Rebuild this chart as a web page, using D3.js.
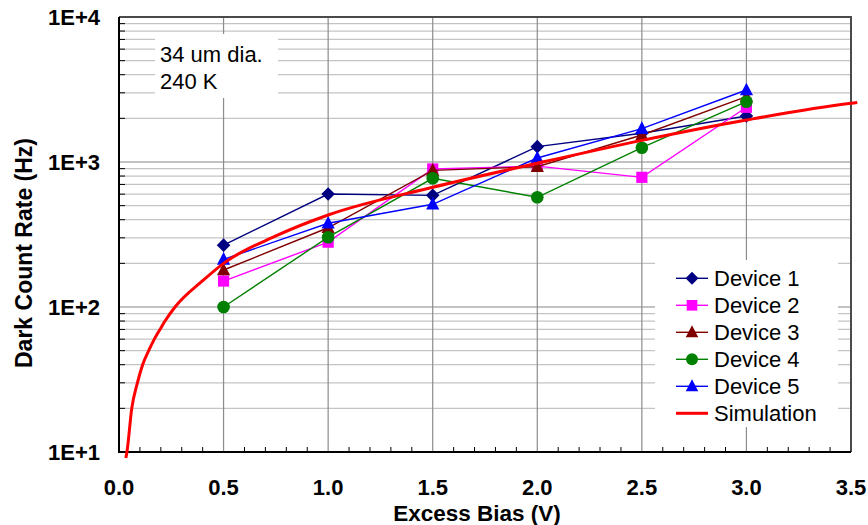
<!doctype html>
<html>
<head>
<meta charset="utf-8">
<script src="https://cdnjs.cloudflare.com/ajax/libs/d3/7.8.5/d3.min.js"></script>
<style>
  body { margin: 0; background: #fff; }
  svg { font-family: Arial, "Liberation Sans", sans-serif; }
</style>
</head>
<body>
<svg id="chart" width="868" height="525"></svg>
<script>
// data
var bias = [0.5, 1.0, 1.5, 2.0, 2.5, 3.0];
var device1 = [267, 601, 589, 1276, 1578, 2075];
var device2 = [151, 280, 895, 936, 784, 2384];
var device3 = [180, 352, 875, 928, 1535, 2820];
var device4 = [100, 303, 772, 571, 1255, 2606];
var device5 = [213, 378, 511, 1065, 1700, 3138];

var simBias = [0.033, 0.038, 0.061, 0.088, 0.113, 0.142, 0.169, 0.196, 0.22, 0.268, 0.403, 0.5, 0.75, 1.0, 1.5, 2.0, 2.5, 3.0, 3.5, 3.53];
var simRate = [9.1, 10, 20, 30, 40, 50, 60, 70, 80, 100, 153, 200, 309, 431, 669, 980, 1410, 1949, 2540, 2570];

var xTicks = [0, 0.5, 1.0, 1.5, 2.0, 2.5, 3.0, 3.5];
var yTicks = [10, 100, 1000, 10000];
var yTickLabels = ["1E+1", "1E+2", "1E+3", "1E+4"];

var series = [
  {name: "Device 1", values: device1, color: "#000080", shape: "diamond"},
  {name: "Device 2", values: device2, color: "#ff00ff", shape: "square"},
  {name: "Device 3", values: device3, color: "#800000", shape: "triangle"},
  {name: "Device 4", values: device4, color: "#008000", shape: "circle"},
  {name: "Device 5", values: device5, color: "#0000ff", shape: "triangle"}
];

var pL = 119, pR = 851, pT = 17, pB = 452;
var x = d3.scaleLinear().domain([0, 3.5]).range([pL, pR]);
var y = d3.scaleLog().domain([10, 10000]).range([pB, pT]);

var svg = d3.select("#chart");

// minor horizontal grid (2..9 per decade)
var minors = [];
[10, 100, 1000].forEach(function(d) {
  for (var k = 2; k <= 9; k++) minors.push(d * k);
});
svg.append("g").selectAll("line").data(minors).enter().append("line")
  .attr("x1", pL).attr("x2", pR)
  .attr("y1", d => y(d)).attr("y2", d => y(d))
  .style("stroke", "#c4c4c4").style("stroke-width", 1.2);

svg.append("g").selectAll("line").data(yTicks).enter().append("line")
  .attr("x1", pL).attr("x2", pR)
  .attr("y1", d => y(d)).attr("y2", d => y(d))
  .style("stroke", "#858585").style("stroke-width", 1.2);

svg.append("g").selectAll("line").data(xTicks.slice(1, -1)).enter().append("line")
  .attr("x1", d => x(d)).attr("x2", d => x(d))
  .attr("y1", pT).attr("y2", pB)
  .style("stroke", "#8c8c8c").style("stroke-width", 1.2);

// minor ticks, pointing inward
var xMinor = d3.range(1, 35).map(d => d / 10).filter(d => Math.abs(d * 2 - Math.round(d * 2)) > 0.01);
svg.append("g").selectAll("line").data(xMinor).enter().append("line")
  .attr("x1", d => x(d)).attr("x2", d => x(d))
  .attr("y1", pB).attr("y2", pB - 5)
  .style("stroke", "#000").style("stroke-width", 1);
svg.append("g").selectAll("line").data(minors).enter().append("line")
  .attr("x1", pL).attr("x2", pL + 6)
  .attr("y1", d => y(d)).attr("y2", d => y(d))
  .style("stroke", "#000").style("stroke-width", 1);

// annotation box
svg.append("rect").attr("x", 155).attr("y", 34).attr("width", 123).attr("height", 64).style("fill", "#fff");
svg.append("text").attr("x", 160).attr("y", 62).style("font-size", "22px").text("34 um dia.");
svg.append("text").attr("x", 160).attr("y", 88.5).style("font-size", "22px").text("240 K");

// frame
svg.append("path")
  .attr("d", "M" + pL + "," + pT + "H" + pR + "V" + pB)
  .style("fill", "none").style("stroke", "#4a4a4a").style("stroke-width", 2);
svg.append("path")
  .attr("d", "M" + pL + "," + pT + "V" + pB + "H" + pR)
  .style("fill", "none").style("stroke", "#000").style("stroke-width", 2);

function marker(g, shape, cx, cy, color, s) {
  s = s || 1;
  if (shape == "circle") {
    g.append("circle").attr("cx", cx).attr("cy", cy).attr("r", 6.3 * s).style("fill", color);
  } else {
    var p;
    if (shape == "diamond") {
      var h = 6.8 * s;
      p = [[cx, cy - h], [cx + h, cy], [cx, cy + h], [cx - h, cy]];
    } else if (shape == "square") {
      var h = 5.6 * s;
      p = [[cx - h, cy - h], [cx + h, cy - h], [cx + h, cy + h], [cx - h, cy + h]];
    } else {
      var w = 6.6 * s, hh = 6.3 * s;
      p = [[cx, cy - hh - 1], [cx + w, cy + hh - 1], [cx - w, cy + hh - 1]];
    }
    g.append("path").attr("d", "M" + p.join("L") + "Z").style("fill", color);
  }
}

var line = d3.line().x(d => x(d[0])).y(d => y(d[1]));

series.forEach(function(s) {
  var g = svg.append("g");
  var pts = bias.map((b, i) => [b, s.values[i]]);
  g.append("path").attr("d", line(pts))
    .style("fill", "none").style("stroke", s.color).style("stroke-width", 1.4);
  pts.forEach(p => marker(g, s.shape, x(p[0]), y(p[1]), s.color));
});

var simLine = d3.line().x(d => x(d[0])).y(d => y(d[1])).curve(d3.curveMonotoneX);
svg.append("path")
  .attr("d", simLine(simBias.map((b, i) => [b, simRate[i]])))
  .style("fill", "none").style("stroke", "#ff0000").style("stroke-width", 3);

// axis labels
svg.append("g").selectAll("text").data(yTicks).enter().append("text")
  .attr("x", 100).attr("y", d => y(d)).attr("dy", "0.36em")
  .attr("text-anchor", "end").style("font-size", "22px").style("font-weight", "bold")
  .text((d, i) => yTickLabels[i]);
svg.append("g").selectAll("text").data(xTicks).enter().append("text")
  .attr("x", d => x(d)).attr("y", 495)
  .attr("text-anchor", "middle").style("font-size", "22px").style("font-weight", "bold")
  .text(d => d3.format(".1f")(d));

svg.append("text").attr("x", 477).attr("y", 521).attr("text-anchor", "middle")
  .style("font-size", "22.5px").style("font-weight", "bold").text("Excess Bias (V)");
svg.append("text").attr("transform", "translate(32,253) rotate(-90)").attr("text-anchor", "middle")
  .style("font-size", "23px").style("font-weight", "bold").text("Dark Count Rate (Hz)");

// legend
var leg = svg.append("g");
leg.append("rect").attr("x", 655).attr("y", 260).attr("width", 183).attr("height", 167).style("fill", "#fff");
var legItems = series.concat([{name: "Simulation", color: "#ff0000", shape: null}]);
legItems.forEach(function(s, i) {
  var cy = 278.3 + i * 27;
  leg.append("line").attr("x1", 676).attr("x2", 708).attr("y1", cy).attr("y2", cy)
    .style("stroke", s.color).style("stroke-width", s.shape ? 1.4 : 3);
  if (s.shape) marker(leg, s.shape, 692, cy, s.color, 0.95);
  leg.append("text").attr("x", 714).attr("y", cy).attr("dy", "0.36em")
    .style("font-size", "22px").text(s.name);
});
</script>
</body>
</html>
